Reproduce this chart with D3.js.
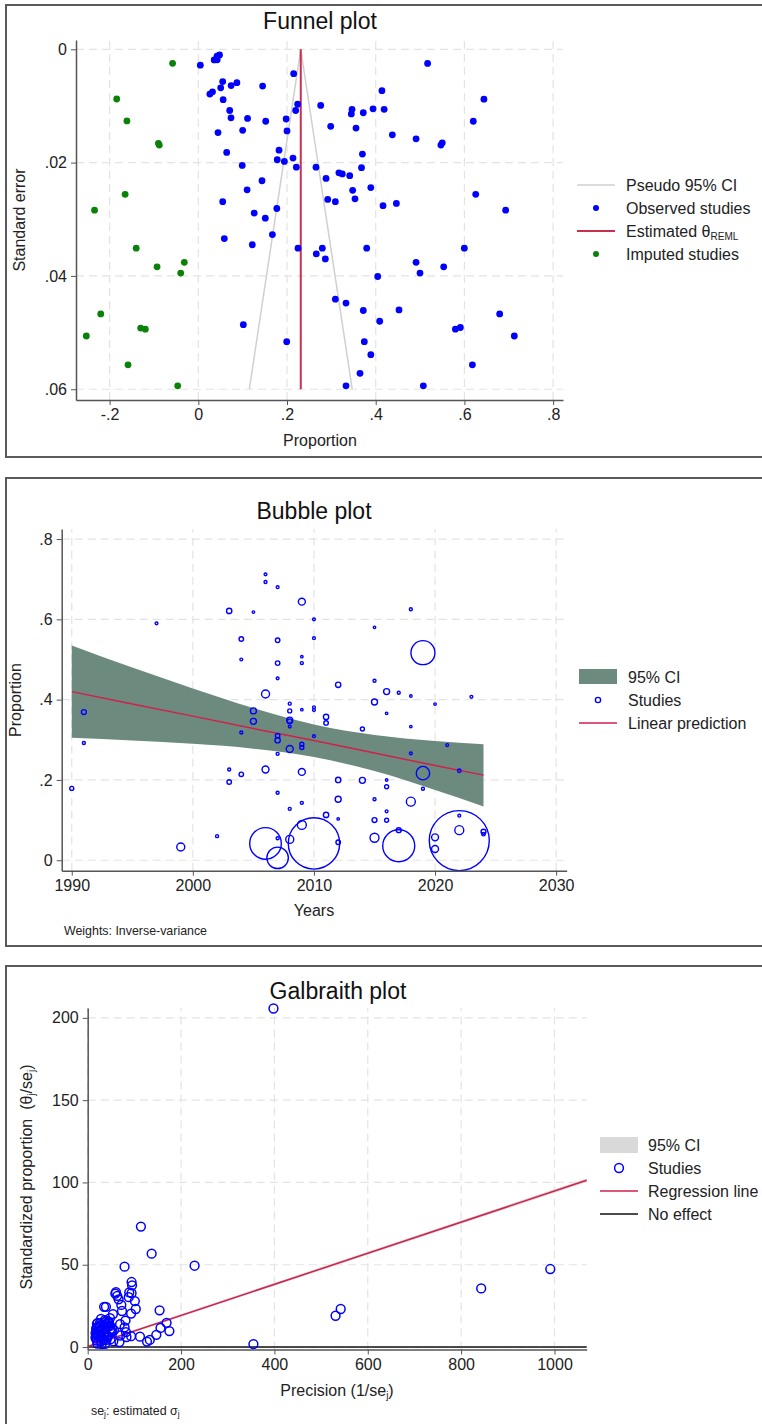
<!DOCTYPE html>
<html>
<head>
<meta charset="utf-8">
<script src="https://cdn.jsdelivr.net/npm/d3@7/dist/d3.min.js"></script>
<style>
  body { margin: 0; background: #fff; }
  svg { display: block; font-family: "Liberation Sans", Arial, sans-serif; }
  .tick text { font-size: 16px; fill: #222; font-family: "Liberation Sans", Arial, sans-serif; }
  .tick line { stroke: #555; }
  .domain { stroke: #555; stroke-width: 1.5px; }
  .keepspace { white-space: pre; }
</style>
</head>
<body>
<svg id="chart" width="762" height="1424"></svg>
<script>
// ---------- Funnel plot data ----------
const observedTheta = [0.0045,0.0358,0.0426,0.0422,0.0478,0.215,0.055,0.087,0.074,0.0505,0.145,0.032,0.026,0.056,0.224,0.2195,0.0708,0.0737,0.111,0.152,0.198,0.200,0.0444,0.100,0.182,0.064,0.178,0.194,0.2135,0.221,0.099,0.1436,0.110,0.055,0.177,0.126,0.151,0.167,0.0586,0.276,0.517,0.414,0.644,0.3466,0.345,0.372,0.394,0.419,0.620,0.2985,0.3556,0.4375,0.491,0.547,0.550,0.370,0.2654,0.368,0.288,0.317,0.3247,0.3414,0.348,0.389,0.2918,0.309,0.3533,0.4165,0.4466,0.6255,0.693,0.1218,0.2248,0.266,0.2796,0.2864,0.3797,0.4045,0.1015,0.1993,0.309,0.333,0.372,0.3743,0.389,0.3646,0.333,0.5998,0.491,0.5533,0.4999,0.4525,0.409,0.6795,0.5797,0.5909,0.7125,0.618,0.5074];
const observedSe = [0.0028,0.00188,0.00185,0.00119,0.00101,0.0043,0.0057,0.0059,0.0064,0.0068,0.0065,0.0075,0.0079,0.0089,0.0097,0.0108,0.0108,0.0121,0.0122,0.0127,0.0123,0.0144,0.0147,0.0143,0.0178,0.0182,0.0195,0.0198,0.0192,0.0208,0.0205,0.0232,0.0248,0.0269,0.0281,0.0289,0.0298,0.0327,0.0334,0.0099,0.0025,0.0073,0.0088,0.0106,0.0114,0.0112,0.0105,0.0106,0.0127,0.0136,0.0139,0.0151,0.0158,0.0169,0.0165,0.0185,0.0208,0.0209,0.0228,0.0218,0.0220,0.0223,0.0249,0.0244,0.0265,0.0269,0.0264,0.0276,0.0272,0.0256,0.0284,0.0345,0.0351,0.0361,0.0351,0.0370,0.0351,0.0401,0.0486,0.0516,0.0441,0.0448,0.0461,0.0516,0.0539,0.0572,0.0594,0.0351,0.0376,0.0384,0.0395,0.0460,0.0480,0.0467,0.0494,0.0491,0.0506,0.0557,0.0594];
const imputedTheta = [-0.058,-0.184,-0.161,-0.090,-0.088,-0.165,-0.234,-0.140,-0.0316,-0.093,-0.0397,-0.220,-0.130,-0.1195,-0.2525,-0.1585,-0.0465];
const imputedSe = [0.00247,0.00877,0.01265,0.0166,0.0169,0.0256,0.0284,0.0351,0.0376,0.0384,0.0395,0.0467,0.0492,0.0494,0.0506,0.0557,0.0594];
const thetaREML = 0.231;
const pseudoCiTheta = [0.115, 0.231, 0.347];
const pseudoCiSe = [0.06, 0, 0.06];
const funnelXTicks = [-0.2, 0, 0.2, 0.4, 0.6, 0.8];
const funnelXLabels = ["-.2", "0", ".2", ".4", ".6", ".8"];
const funnelYTicks = [0, 0.02, 0.04, 0.06];
const funnelYLabels = ["0", ".02", ".04", ".06"];

// ---------- Bubble plot data ----------
const bubbleYear = [1990,1991,1991,1997,1999,2002,2003,2003,2003,2004,2004,2004,2004,2005,2005,2005,2006,2006,2006,2006,2006,2007,2007,2007,2007,2007,2007,2007,2007,2007,2007,2008,2008,2008,2008,2008,2008,2008,2008,2009,2009,2009,2009,2009,2009,2009,2009,2009,2010,2010,2010,2010,2010,2010,2011,2011,2011,2012,2012,2012,2012,2012,2014,2014,2015,2015,2015,2015,2015,2015,2016,2016,2016,2016,2016,2016,2017,2017,2017,2018,2018,2018,2018,2018,2019,2019,2019,2020,2020,2020,2021,2022,2022,2022,2022,2023,2024,2024];
const bubbleProp = [0.179,0.369,0.292,0.590,0.033,0.060,0.621,0.226,0.195,0.551,0.500,0.318,0.214,0.618,0.372,0.346,0.712,0.693,0.414,0.226,0.042,0.680,0.548,0.491,0.453,0.310,0.299,0.265,0.168,0.055,0.006,0.390,0.372,0.349,0.346,0.333,0.277,0.128,0.052,0.644,0.507,0.491,0.375,0.289,0.281,0.220,0.143,0.088,0.600,0.553,0.381,0.374,0.309,0.042,0.357,0.342,0.113,0.437,0.200,0.152,0.103,0.045,0.327,0.199,0.580,0.447,0.394,0.152,0.100,0.056,0.420,0.366,0.200,0.183,0.122,0.0996,0.417,0.075,0.036,0.625,0.409,0.333,0.266,0.146,0.517,0.217,0.178,0.389,0.057,0.028,0.287,0.223,0.111,0.075,0.049,0.407,0.071,0.065];
const bubbleWeight = [4,6,2.25,2,16,2.25,7,2.25,5,5,2,2.25,5,1.5,9,9,2,2.25,16,12,250,2,5,5,2,5,7,2.25,2.25,2.25,115,2.25,4,9,6,2,12,2.25,16,12,1.5,2.25,1.5,4,4,12,2.25,20,2,2,2,2,2,660,7,5,7,7,7,9,1.5,5,4,9,1.5,2.25,9,2.25,6,20,9,1.5,1.5,4,2,4,2.25,6,256,2.25,1.5,1.5,2,20,144,45,2.25,1.5,12,12,2,3,2,20,900,2,6,3];
const fitYear = [1990,1995,2000,2005,2008,2010,2015,2020,2024];
const fitLower = [0.305,0.298,0.290,0.278,0.267,0.257,0.222,0.175,0.134];
const fitUpper = [0.535,0.480,0.428,0.379,0.353,0.338,0.312,0.297,0.289];
const fitPred = [0.420,0.389,0.359,0.328,0.310,0.298,0.267,0.236,0.212];
const bubbleXTicks = [1990, 2000, 2010, 2020, 2030];
const bubbleXLabels = ["1990", "2000", "2010", "2020", "2030"];
const bubbleYTicks = [0, 0.2, 0.4, 0.6, 0.8];
const bubbleYLabels = ["0", ".2", ".4", ".6", ".8"];

// ---------- Galbraith plot data ----------
const galPrecision = [355,531,542,843,991,398,229,175,169,156,147,154,133,127,112,103,93,93,83,82,79,81,101,137,114,94,88,89,95,94,79,73.5,72,69.4,68,69.9,66.2,63.3,59.2,60.6,56.2,54.9,54.1,51.3,50.5,52.1,48.1,48.8,48.1,47.8,43.1,43.9,45.9,45.5,44.8,40.3,40.2,41.0,37.2,37.7,37.2,37.9,36.2,36.8,39.1,35.2,35.6,34.6,33.6,30.6,29.9,29.0,28.5,27.7,28.5,27.0,28.5,28.5,26.6,26.0,25.3,24.9,22.7,22.3,21.7,21.7,20.8,21.4,20.2,20.4,19.8,20.6,19.4,19.4,18.6,18.0,17.5,16.8,16.8];
const galStandardized = [1.8,19.0,23.1,35.6,47.4,205.7,49.4,9.7,14.7,11.6,7.4,22.3,4.3,3.3,6.3,23.1,20.3,6.6,6.1,9.1,12.0,16.1,27.9,56.7,73.2,32.7,30.3,33.2,37.5,39.5,48.8,21.9,25.6,13.9,3.0,7.0,29.0,31.1,32.4,33.3,10.2,3.5,20.0,9.1,9.8,11.1,10.6,4.8,12.8,17.6,6.2,12.6,14.5,14.8,15.3,4.4,14.0,15.9,2.0,11.0,11.5,13.4,15.1,16.4,24.4,24.4,6.3,4.4,5.1,5.1,1.75,3.5,6.4,7.4,8.0,7.7,10.8,17.1,13.1,14.4,12.7,10.1,7.0,7.4,8.1,9.8,8.5,14.6,11.7,12.0,14.1,2.1,3.9,7.3,7.2,11.1,6.4,5.6,8.5];
const galLineX = [0, 1069];
const galLineY = [0.3, 101.3];
const galCiLower = [-0.4, 100.2];
const galCiUpper = [1.0, 102.4];
const galXTicks = [0, 200, 400, 600, 800, 1000];
const galXLabels = ["0", "200", "400", "600", "800", "1000"];
const galYTicks = [0, 50, 100, 150, 200];
const galYLabels = ["0", "50", "100", "150", "200"];

// ---------- styling ----------
const BLUE = "#0000ff", GREEN = "#0a820a", RED = "#c9304f", CRIMSON = "#d21f4c";
const GRID = "#e3e3e3", FRAME = "#5a5a5a", BAND = "#6c8b7e", GREYBAND = "#d9d9d9";
const LABEL = 16, TITLE = 23;

const svg = d3.select("#chart");
svg.append("rect").attr("width", 762).attr("height", 1424).attr("fill", "#fff");

// outer frames of the three panels
[[6, 5, 452], [6, 478, 468], [6, 966, 480]].forEach(([x, y, h]) => {
  svg.append("rect").attr("x", x).attr("y", y).attr("width", 800).attr("height", h)
    .attr("fill", "none").attr("stroke", FRAME).attr("stroke-width", 2);
});

function grid(g, x, y, xt, yt) {
  const [x0, x1] = x.range(), [y0, y1] = y.range();
  g.selectAll(null).data(xt).join("line")
    .attr("x1", d => x(d)).attr("x2", d => x(d)).attr("y1", y0).attr("y2", y1)
    .attr("stroke", GRID).attr("stroke-width", 1.2).attr("stroke-dasharray", "8,5");
  g.selectAll(null).data(yt).join("line")
    .attr("x1", x0).attr("x2", x1).attr("y1", d => y(d)).attr("y2", d => y(d))
    .attr("stroke", GRID).attr("stroke-width", 1.2).attr("stroke-dasharray", "8,5");
}

function axes(g, x, y, xt, xl, yt, yl) {
  const yAxisX = x.range()[0], xAxisY = y.range()[0];
  g.append("g").attr("transform", `translate(0,${xAxisY})`)
    .call(d3.axisBottom(x).tickValues(xt).tickFormat((d, i) => xl[i]).tickSizeInner(5).tickSizeOuter(0).tickPadding(4));
  g.append("g").attr("transform", `translate(${yAxisX},0)`)
    .call(d3.axisLeft(y).tickValues(yt).tickFormat((d, i) => yl[i]).tickSizeInner(5).tickSizeOuter(0).tickPadding(4));
}

function title(text, cx, baseline) {
  svg.append("text").attr("x", cx).attr("y", baseline).attr("text-anchor", "middle")
    .attr("font-size", TITLE).attr("fill", "#111").text(text);
}

// ================= Funnel plot =================
{
  const x = d3.scaleLinear().domain([-0.2758, 0.8223]).range([76, 563]);
  const y = d3.scaleLinear().domain([0.0619, -0.00164]).range([400, 40]);
  const g = svg.append("g");
  grid(g, x, y, funnelXTicks, funnelYTicks);

  g.append("path")
    .attr("d", d3.line().x(d => x(d[0])).y(d => y(d[1]))(pseudoCiTheta.map((t, i) => [t, pseudoCiSe[i]])))
    .attr("fill", "none").attr("stroke", "#d0d0d0").attr("stroke-width", 1.5);
  g.append("line").attr("x1", x(thetaREML)).attr("x2", x(thetaREML))
    .attr("y1", y(0)).attr("y2", y(0.06)).attr("stroke", RED).attr("stroke-width", 2);

  g.selectAll(null).data(observedTheta.map((t, i) => [t, observedSe[i]])).join("circle")
    .attr("cx", d => x(d[0])).attr("cy", d => y(d[1])).attr("r", 3.4).attr("fill", BLUE);
  g.selectAll(null).data(imputedTheta.map((t, i) => [t, imputedSe[i]])).join("circle")
    .attr("cx", d => x(d[0])).attr("cy", d => y(d[1])).attr("r", 3.4).attr("fill", GREEN);

  axes(g, x, y, funnelXTicks, funnelXLabels, funnelYTicks, funnelYLabels);
  title("Funnel plot", 320, 29);

  g.append("text").attr("x", 320).attr("y", 446).attr("text-anchor", "middle")
    .attr("font-size", LABEL).attr("fill", "#222").text("Proportion");
  g.append("text").attr("transform", "translate(25,220) rotate(-90)").attr("text-anchor", "middle")
    .attr("font-size", LABEL).attr("fill", "#222").text("Standard error");

  const lg = g.append("g").attr("font-size", LABEL).attr("fill", "#222");
  const rows = [185, 208, 231, 254];
  lg.append("line").attr("x1", 577).attr("x2", 615).attr("y1", rows[0]).attr("y2", rows[0]).attr("stroke", "#d0d0d0").attr("stroke-width", 1.5);
  lg.append("circle").attr("cx", 596).attr("cy", rows[1]).attr("r", 3).attr("fill", BLUE);
  lg.append("line").attr("x1", 577).attr("x2", 615).attr("y1", rows[2]).attr("y2", rows[2]).attr("stroke", RED).attr("stroke-width", 2);
  lg.append("circle").attr("cx", 596).attr("cy", rows[3]).attr("r", 3).attr("fill", GREEN);
  lg.append("text").attr("x", 626).attr("y", rows[0] + 6).text("Pseudo 95% CI");
  lg.append("text").attr("x", 626).attr("y", rows[1] + 6).text("Observed studies");
  const est = lg.append("text").attr("x", 626).attr("y", rows[2] + 6).text("Estimated θ");
  est.append("tspan").attr("font-size", 10).attr("dy", 3).text("REML");
  lg.append("text").attr("x", 626).attr("y", rows[3] + 6).text("Imputed studies");
}

// ================= Bubble plot =================
{
  const x = d3.scaleLinear().domain([1989.17, 2030.87]).range([61.7, 566.7]);
  const y = d3.scaleLinear().domain([-0.026, 0.825]).range([870.7, 529]);
  const r = d3.scaleSqrt().domain([0, 900]).range([0, 30]);
  const g = svg.append("g");
  grid(g, x, y, bubbleXTicks, bubbleYTicks);

  const fit = fitYear.map((yr, i) => ({ yr, lo: fitLower[i], hi: fitUpper[i], p: fitPred[i] }));
  g.append("path")
    .attr("d", d3.area().curve(d3.curveMonotoneX).x(d => x(d.yr)).y0(d => y(d.lo)).y1(d => y(d.hi))(fit))
    .attr("fill", BAND);
  g.append("path")
    .attr("d", d3.line().x(d => x(d.yr)).y(d => y(d.p))(fit))
    .attr("fill", "none").attr("stroke", CRIMSON).attr("stroke-width", 1.5);

  g.selectAll(null).data(bubbleYear.map((yr, i) => ({ yr, p: bubbleProp[i], w: bubbleWeight[i] })))
    .join("circle")
    .attr("cx", d => x(d.yr)).attr("cy", d => y(d.p)).attr("r", d => r(d.w))
    .attr("fill", "none").attr("stroke", BLUE).attr("stroke-width", 1.4);

  axes(g, x, y, bubbleXTicks, bubbleXLabels, bubbleYTicks, bubbleYLabels);
  title("Bubble plot", 314, 519);

  g.append("text").attr("x", 314).attr("y", 916).attr("text-anchor", "middle")
    .attr("font-size", LABEL).attr("fill", "#222").text("Years");
  g.append("text").attr("transform", "translate(21,700) rotate(-90)").attr("text-anchor", "middle")
    .attr("font-size", LABEL).attr("fill", "#222").text("Proportion");
  g.append("text").attr("x", 64).attr("y", 935).attr("font-size", 12.4).attr("fill", "#222")
    .text("Weights: Inverse-variance");

  const lg = g.append("g").attr("font-size", LABEL).attr("fill", "#222");
  const rows = [677, 700, 723];
  lg.append("rect").attr("x", 579).attr("y", rows[0] - 8).attr("width", 38).attr("height", 15).attr("fill", BAND);
  lg.append("circle").attr("cx", 598).attr("cy", rows[1]).attr("r", 2.6).attr("fill", "none").attr("stroke", BLUE).attr("stroke-width", 1.4);
  lg.append("line").attr("x1", 579).attr("x2", 617).attr("y1", rows[2]).attr("y2", rows[2]).attr("stroke", CRIMSON).attr("stroke-width", 1.5);
  lg.append("text").attr("x", 628).attr("y", rows[0] + 6).text("95% CI");
  lg.append("text").attr("x", 628).attr("y", rows[1] + 6).text("Studies");
  lg.append("text").attr("x", 628).attr("y", rows[2] + 6).text("Linear prediction");
}

// ================= Galbraith plot =================
{
  const x = d3.scaleLinear().domain([0, 1069]).range([87.7, 586.7]);
  const y = d3.scaleLinear().domain([-1.5, 206]).range([1349.5, 1008]);
  const g = svg.append("g");
  grid(g, x, y, galXTicks, galYTicks);

  const band = galLineX.map((v, i) => ({ v, lo: galCiLower[i], hi: galCiUpper[i], m: galLineY[i] }));
  g.append("path")
    .attr("d", d3.area().x(d => x(d.v)).y0(d => y(d.lo)).y1(d => y(d.hi))(band))
    .attr("fill", GREYBAND);
  g.append("line").attr("x1", x.range()[0]).attr("x2", x.range()[1]).attr("y1", y(0)).attr("y2", y(0))
    .attr("stroke", "#111").attr("stroke-width", 1.5);
  g.append("path")
    .attr("d", d3.line().x(d => x(d.v)).y(d => y(d.m))(band))
    .attr("fill", "none").attr("stroke", CRIMSON).attr("stroke-width", 1.5);

  g.selectAll(null).data(galPrecision.map((p, i) => [p, galStandardized[i]])).join("circle")
    .attr("cx", d => x(d[0])).attr("cy", d => y(d[1])).attr("r", 4.4)
    .attr("fill", "none").attr("stroke", BLUE).attr("stroke-width", 1.5);

  axes(g, x, y, galXTicks, galXLabels, galYTicks, galYLabels);
  title("Galbraith plot", 338, 999);

  const xt = g.append("text").attr("x", 337).attr("y", 1396).attr("text-anchor", "middle")
    .attr("font-size", LABEL).attr("fill", "#222").text("Precision (1/se");
  xt.append("tspan").attr("font-size", 10).attr("dy", 3).text("j");
  xt.append("tspan").attr("dy", -3).text(")");

  const yt = g.append("text").attr("class", "keepspace")
    .attr("transform", "translate(32,1177) rotate(-90)").attr("text-anchor", "middle")
    .attr("font-size", LABEL).attr("fill", "#222").text("Standardized proportion  (θ");
  yt.append("tspan").attr("font-size", 10).attr("dy", 3).text("j");
  yt.append("tspan").attr("dy", -3).text("/se");
  yt.append("tspan").attr("font-size", 10).attr("dy", 3).text("j");
  yt.append("tspan").attr("dy", -3).text(")");

  const note = g.append("text").attr("x", 91).attr("y", 1415).attr("font-size", 12.4).attr("fill", "#222").text("se");
  note.append("tspan").attr("font-size", 8.5).attr("dy", 2).text("j");
  note.append("tspan").attr("dy", -2).text(": estimated σ");
  note.append("tspan").attr("font-size", 8.5).attr("dy", 2).text("j");

  const lg = g.append("g").attr("font-size", LABEL).attr("fill", "#222");
  const rows = [1145, 1168, 1191, 1214];
  lg.append("rect").attr("x", 600).attr("y", rows[0] - 8).attr("width", 38).attr("height", 16).attr("fill", GREYBAND);
  lg.append("circle").attr("cx", 619).attr("cy", rows[1]).attr("r", 4.4).attr("fill", "none").attr("stroke", BLUE).attr("stroke-width", 1.5);
  lg.append("line").attr("x1", 600).attr("x2", 638).attr("y1", rows[2]).attr("y2", rows[2]).attr("stroke", CRIMSON).attr("stroke-width", 1.5);
  lg.append("line").attr("x1", 600).attr("x2", 638).attr("y1", rows[3]).attr("y2", rows[3]).attr("stroke", "#111").attr("stroke-width", 1.5);
  lg.append("text").attr("x", 648).attr("y", rows[0] + 6).text("95% CI");
  lg.append("text").attr("x", 648).attr("y", rows[1] + 6).text("Studies");
  lg.append("text").attr("x", 648).attr("y", rows[2] + 6).text("Regression line");
  lg.append("text").attr("x", 648).attr("y", rows[3] + 6).text("No effect");
}
</script>
</body>
</html>
